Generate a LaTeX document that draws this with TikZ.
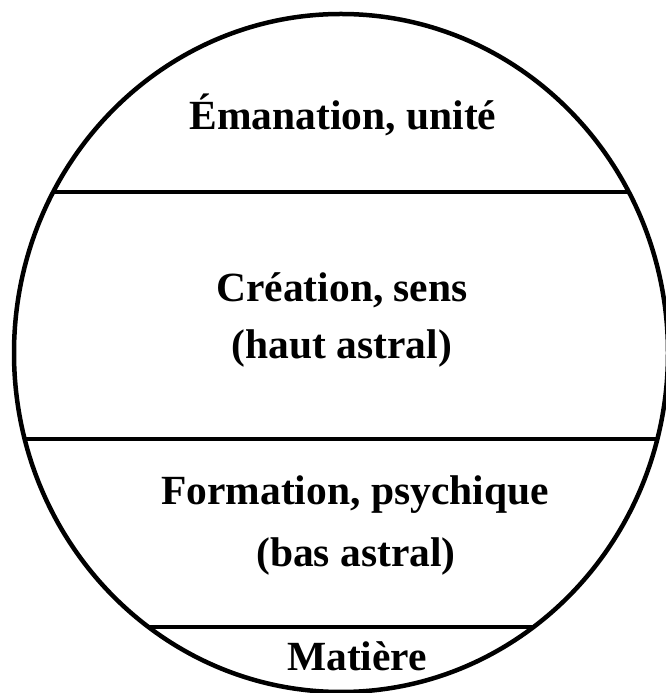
\documentclass[tikz,border=0pt]{standalone}
\usepackage{fontspec}
\setmainfont{Liberation Serif}
\begin{document}
\begin{tikzpicture}[x=1pt,y=1pt,
  lbl/.style={font=\fontsize{41.5}{48}\selectfont\bfseries, anchor=base, inner sep=0pt},
  band/.style={line width=4.5pt}]
\useasboundingbox (0,0) rectangle (666,693);
\begin{scope}
\clip (0,0) rectangle (666,693);
\draw[band] (341,340) ellipse [x radius=327, y radius=339];
\end{scope}
\coordinate (l1a) at (53,501); \coordinate (l1b) at (630,501);
\coordinate (l2a) at (25,254); \coordinate (l2b) at (658,254);
\coordinate (l3a) at (148,66); \coordinate (l3b) at (535,66);
\draw[band] (l1a) -- (l1b);
\draw[band] (l2a) -- (l2b);
\draw[band] (l3a) -- (l3b);
\node[lbl] (t1) at (343,563) {Émanation, unité};
\node[lbl] (t2) at (342,391) {Création, sens};
\node[lbl] (t3) at (342,334) {(haut astral)};
\node[lbl] (t4) at (355,188) {Formation, psychique};
\node[lbl] (t5) at (356,126) {(bas astral)};
\node[lbl] (t6) at (357,23) {Matière};
\end{tikzpicture}
\end{document}
